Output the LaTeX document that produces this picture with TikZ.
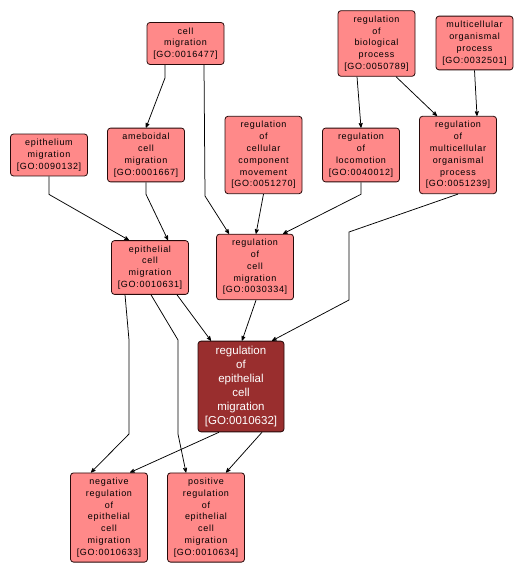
\documentclass[tikz,border=0pt]{standalone}
\usepackage{fontspec}
\setmainfont{Liberation Sans}
\newfontfamily\termfont[LetterSpace=8]{Liberation Sans}
\usetikzlibrary{arrows,positioning}
\definecolor{termfill}{RGB}{255,137,137}
\definecolor{focusfill}{RGB}{153,46,46}
\definecolor{termline}{RGB}{40,10,10}
\tikzstyle{term}=[
	rectangle,
	rounded corners=3bp,
	draw=termline,
	line width=0.8bp,
	fill=termfill,
	align=center,
	minimum width=77bp,
	inner xsep=2bp,
	inner ysep=5bp,
	font=\termfont\fontsize{9bp}{11.8bp}\selectfont
]
\tikzstyle{focus}=[
	term,
	fill=focusfill,
	text=white,
	minimum width=86bp,
	font=\fontsize{11.5bp}{14bp}\selectfont
]
\tikzstyle{isa}=[
	->,
	>=stealth',
	line width=0.75bp,
	black
]

\begin{document}
\begin{tikzpicture}[x=1bp,y=-1bp]
\useasboundingbox (0,0) rectangle (523,575);
\node [term] (CellMigration) at (185.5,43.5) {cell\\migration\\{[GO:0016477]}};
\node [term] (RegBiological) at (376.5,43.5) {regulation\\of\\biological\\process\\{[GO:0050789]}};
\node [term] (MulticellProcess) at (474.5,43) {multicellular\\organismal\\process\\{[GO:0032501]}};
\node [term] (EpitheliumMigration) at (49,155) {epithelium\\migration\\{[GO:0090132]}};
\node [term] (AmeboidMigration) at (146,155) {ameboidal\\cell\\migration\\{[GO:0001667]}};
\node [term] (RegComponent) at (263.5,155) {regulation\\of\\cellular\\component\\movement\\{[GO:0051270]}};
\node [term] (RegLocomotion) at (361,155) {regulation\\of\\locomotion\\{[GO:0040012]}};
\node [term] (RegMulticell) at (458,155) {regulation\\of\\multicellular\\organismal\\process\\{[GO:0051239]}};
\node [term] (EpithelialMigration) at (150,267.5) {epithelial\\cell\\migration\\{[GO:0010631]}};
\node [term] (RegCellMigration) at (255,267) {regulation\\of\\cell\\migration\\{[GO:0030334]}};
\node [focus] (RegEpithelial) at (241,386.5) {regulation\\of\\epithelial\\cell\\migration\\{[GO:0010632]}};
\node [term] (NegRegEpithelial) at (109,517.5) {negative\\regulation\\of\\epithelial\\cell\\migration\\{[GO:0010633]}};
\node [term] (PosRegEpithelial) at (206,517.5) {positive\\regulation\\of\\epithelial\\cell\\migration\\{[GO:0010634]}};

\draw [isa] ([xshift=-20.5bp]CellMigration.south) -- ++(0,13) -- (AmeboidMigration.north);
\draw [isa] ([xshift=18.5bp]CellMigration.south) -- (205,196) -- ([xshift=-26bp]RegCellMigration.north);
\draw [isa] ([xshift=-19.5bp]RegBiological.south) -- (RegLocomotion.north);
\draw [isa] ([xshift=19.5bp]RegBiological.south) -- ([xshift=-21bp]RegMulticell.north);
\draw [isa] (MulticellProcess.south) -- ([xshift=19bp]RegMulticell.north);
\draw [isa] (EpitheliumMigration.south) -- ++(0,18) -- ([xshift=-21bp]EpithelialMigration.north);
\draw [isa] (AmeboidMigration.south) -- ++(0,12) -- ([xshift=18bp]EpithelialMigration.north);
\draw [isa] (RegComponent.south) -- ([xshift=1bp]RegCellMigration.north);
\draw [isa] (RegLocomotion.south) -- ++(0,12) -- ([xshift=28bp]RegCellMigration.north);
\draw [isa] (RegMulticell.south) -- (349,232) -- (349,300) -- ([xshift=31bp]RegEpithelial.north);
\draw [isa] ([xshift=27bp]EpithelialMigration.south) -- ([xshift=-30bp]RegEpithelial.north);
\draw [isa] ([xshift=1bp]RegCellMigration.south) -- ([xshift=1bp]RegEpithelial.north);
\draw [isa] ([xshift=-25bp]EpithelialMigration.south) -- (129,340) -- (129,434) -- ([xshift=-18bp]NegRegEpithelial.north);
\draw [isa] ([xshift=1bp]EpithelialMigration.south) -- (178,340) -- (178,434) -- ([xshift=-20bp]PosRegEpithelial.north);
\draw [isa] ([xshift=-22bp]RegEpithelial.south) -- ([xshift=21bp]NegRegEpithelial.north);
\draw [isa] ([xshift=21bp]RegEpithelial.south) -- ([xshift=20bp]PosRegEpithelial.north);
\end{tikzpicture}
\end{document}
